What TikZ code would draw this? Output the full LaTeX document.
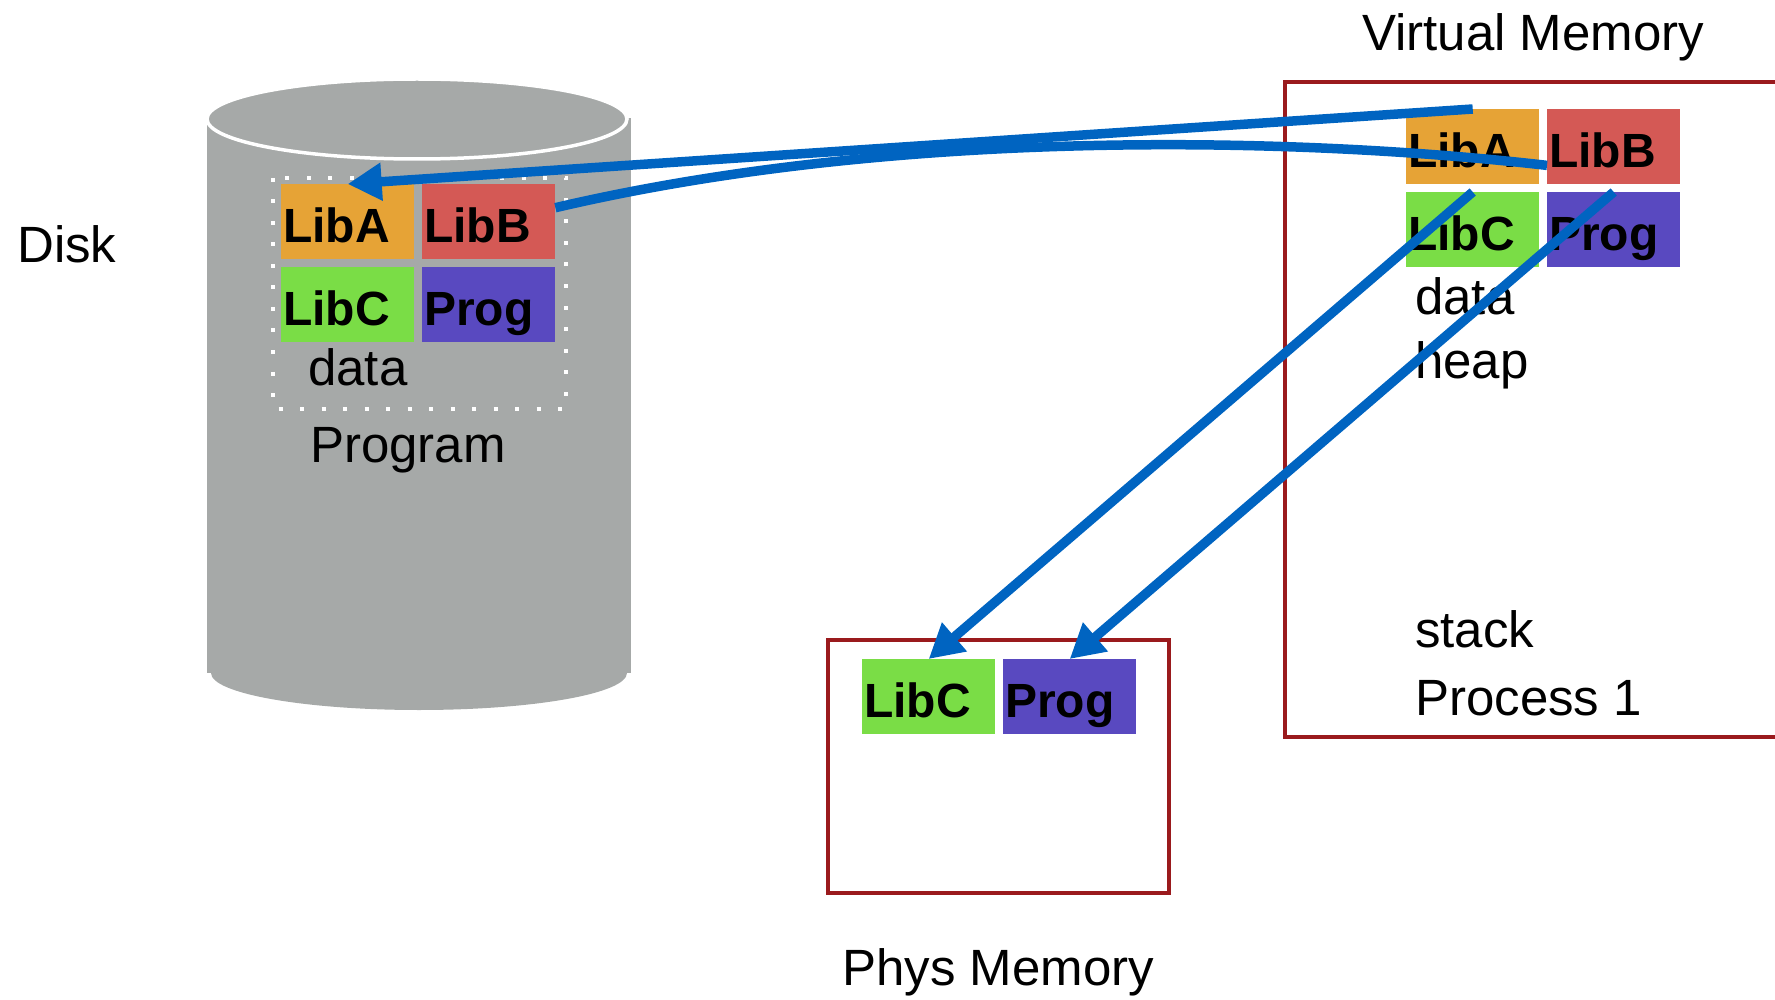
\documentclass[tikz,border=0pt]{standalone}
\usepackage{fontspec}
\setmainfont{Liberation Sans}
\usetikzlibrary{arrows.meta}
\definecolor{cLibA}{HTML}{E6A336}
\definecolor{cLibB}{HTML}{D45955}
\definecolor{cLibC}{HTML}{7ADD46}
\definecolor{cProg}{HTML}{5949C0}
\definecolor{cBlue}{HTML}{0064C1}
\definecolor{cFrame}{HTML}{9A1A1D}
\definecolor{cGray}{HTML}{A6A9A8}
\tikzset{
  membox/.style={rectangle, anchor=north west, inner xsep=2pt, inner ysep=0pt,
    text width=129pt, text height=58pt, text depth=17pt, align=left,
    font=\fontsize{48}{56}\selectfont\bfseries, text=black},
  lbl/.style={anchor=base west, inner sep=0pt, font=\fontsize{51}{60}\selectfont},
  frame/.style={draw=cFrame, line width=4pt},
  link/.style={draw=cBlue, line width=9.5pt},
  arr/.style={link, -{Triangle[length=34pt,width=36pt]}},
}
\begin{document}
\begin{tikzpicture}[x=1pt,y=-1pt]
\useasboundingbox (0,0) rectangle (1775,1000);
% cylinder
\fill[cGray] (207,118) rectangle (631,673);
\fill[cGray] (419,673) ellipse [x radius=208, y radius=37];
\filldraw[fill=cGray, draw=white, line width=3.5pt] (417,119) ellipse [x radius=210, y radius=40];
\draw[white, line width=4pt, dash pattern=on 4pt off 17.5pt] (273,178) rectangle (566,409);
% disk boxes
\node[membox, fill=cLibA] (dA) at (281,184) {LibA};
\node[membox, fill=cLibB] (dB) at (422,184) {LibB};
\node[membox, fill=cLibC] (dC) at (281,267) {LibC};
\node[membox, fill=cProg] (dP) at (422,267) {Prog};
\node[lbl] (ddata) at (308,385) {data};
\node[lbl] (prog) at (310,462) {Program};
\node[lbl] (disk) at (17,263) {Disk};
% virtual memory
\node[lbl] (vmt) at (1362,51) {Virtual Memory};
\draw[frame] (1780,82) -- (1285,82) -- (1285,737) -- (1780,737);
\node[membox, fill=cLibA] (vA) at (1406,109) {LibA};
\node[membox, fill=cLibB] (vB) at (1547,109) {LibB};
\node[membox, fill=cLibC] (vC) at (1406,192) {LibC};
\node[membox, fill=cProg] (vP) at (1547,192) {Prog};
\node[lbl] (vdata) at (1415,315) {data};
\node[lbl] (vheap) at (1415,378) {heap};
\node[lbl] (vstack) at (1415,647) {stack};
\node[lbl] (vproc) at (1415,715) {Process 1};
% physical memory
\draw[frame, line width=4.5pt] (828,640) rectangle (1169,893);
\node[membox, fill=cLibC] (pC) at (862,659) {LibC};
\node[membox, fill=cProg] (pP) at (1003,659) {Prog};
\node[lbl] (pmt) at (842,985) {Phys Memory};
% connectors
\draw[arr] (vA.north) -- (dA.north);
\draw[link] ([yshift=19pt]vB.south west) .. controls (1300,137) and (900,127) .. ([yshift=14pt]dB.east);
\draw[arr] (vC.north) -- (pC.north);
\draw[arr] (vP.north) -- (pP.north);
\end{tikzpicture}
\end{document}
